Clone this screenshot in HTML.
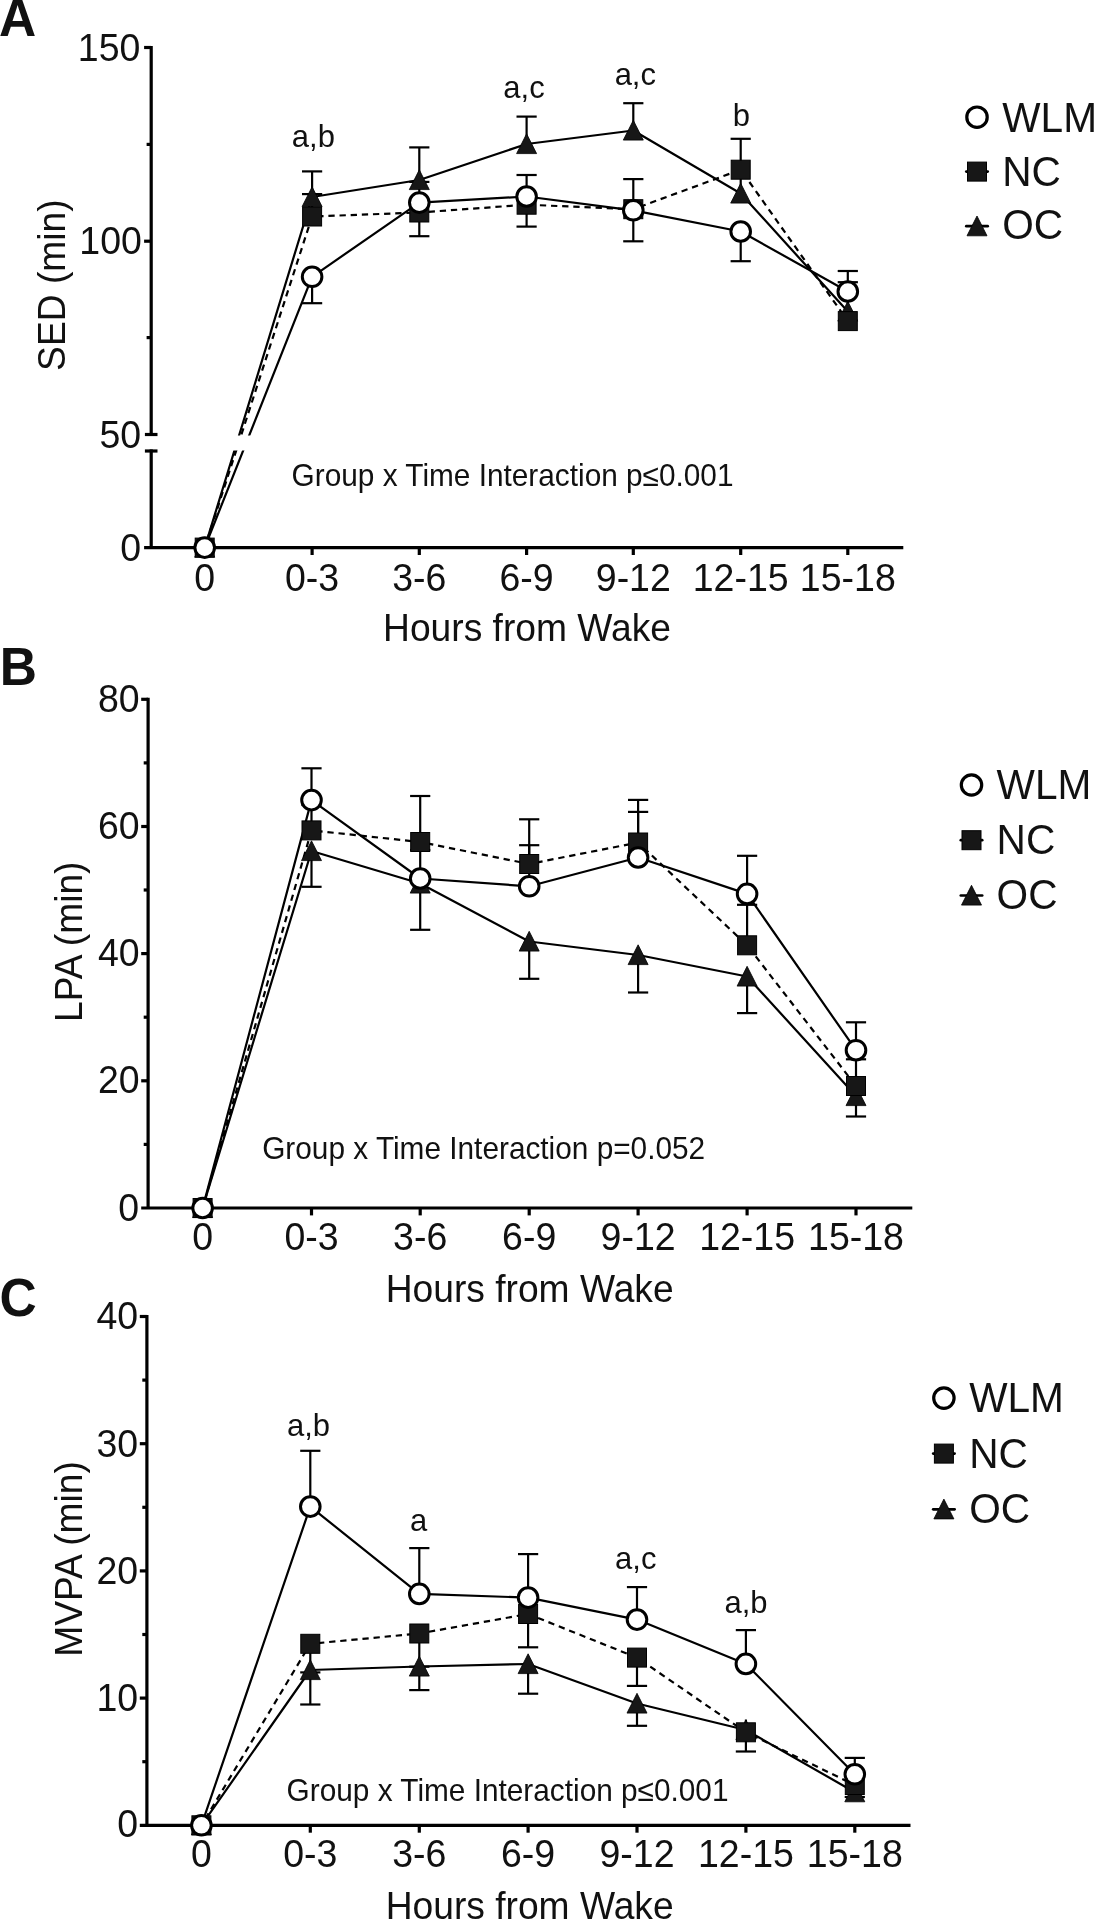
<!DOCTYPE html>
<html><head><meta charset="utf-8"><title>Figure</title>
<style>
html,body{margin:0;padding:0;background:#fff;overflow:hidden;width:1095px;height:1920px;}
svg{display:block;will-change:transform;}
text{font-family:"Liberation Sans", sans-serif;fill:#111;}
</style></head>
<body>
<svg width="1095" height="1920" viewBox="0 0 1095 1920">
<rect width="1095" height="1920" fill="#fff"/>
<line x1="151.20" y1="45.90" x2="151.20" y2="436.10" stroke="#000" stroke-width="3.2" stroke-linecap="butt"/>
<line x1="151.20" y1="449.40" x2="151.20" y2="547.60" stroke="#000" stroke-width="3.2" stroke-linecap="butt"/>
<line x1="144.10" y1="547.60" x2="903.30" y2="547.60" stroke="#000" stroke-width="3.2" stroke-linecap="butt"/>
<line x1="144.10" y1="47.50" x2="151.20" y2="47.50" stroke="#000" stroke-width="3.2" stroke-linecap="butt"/>
<line x1="144.10" y1="241.20" x2="151.20" y2="241.20" stroke="#000" stroke-width="3.2" stroke-linecap="butt"/>
<line x1="146.60" y1="144.40" x2="151.20" y2="144.40" stroke="#000" stroke-width="3.2" stroke-linecap="butt"/>
<line x1="146.60" y1="337.60" x2="151.20" y2="337.60" stroke="#000" stroke-width="3.2" stroke-linecap="butt"/>
<line x1="312.10" y1="547.60" x2="312.10" y2="555.00" stroke="#000" stroke-width="3.2" stroke-linecap="butt"/>
<line x1="419.30" y1="547.60" x2="419.30" y2="555.00" stroke="#000" stroke-width="3.2" stroke-linecap="butt"/>
<line x1="526.60" y1="547.60" x2="526.60" y2="555.00" stroke="#000" stroke-width="3.2" stroke-linecap="butt"/>
<line x1="633.30" y1="547.60" x2="633.30" y2="555.00" stroke="#000" stroke-width="3.2" stroke-linecap="butt"/>
<line x1="740.70" y1="547.60" x2="740.70" y2="555.00" stroke="#000" stroke-width="3.2" stroke-linecap="butt"/>
<line x1="847.80" y1="547.60" x2="847.80" y2="555.00" stroke="#000" stroke-width="3.2" stroke-linecap="butt"/>
<polyline points="204.70,547.60 312.10,197.00 419.30,180.00 526.60,144.00 633.30,130.50 740.70,193.50 847.80,311.50" fill="none" stroke="#000" stroke-width="2.2" stroke-linejoin="round" stroke-linecap="butt"/>
<polyline points="204.70,547.60 312.10,216.50 419.30,212.50 526.60,204.70 633.30,209.20 740.70,169.70 847.80,321.10" fill="none" stroke="#000" stroke-width="2.2" stroke-linejoin="round" stroke-linecap="butt" stroke-dasharray="6.3 4.85" stroke-dashoffset="3.57"/>
<polyline points="204.70,547.60 312.10,276.80 419.30,202.60 526.60,196.50 633.30,210.30 740.70,231.50 847.80,291.50" fill="none" stroke="#000" stroke-width="2.2" stroke-linejoin="round" stroke-linecap="butt"/>
<rect x="153.20" y="435.50" width="752.10" height="15.00" fill="#fff"/>
<line x1="144.90" y1="434.50" x2="157.50" y2="434.50" stroke="#000" stroke-width="3.2" stroke-linecap="butt"/>
<line x1="144.90" y1="451.00" x2="157.50" y2="451.00" stroke="#000" stroke-width="3.2" stroke-linecap="butt"/>
<line x1="312.10" y1="197.00" x2="312.10" y2="171.40" stroke="#000" stroke-width="2.2" stroke-linecap="butt"/>
<line x1="302.00" y1="171.40" x2="322.20" y2="171.40" stroke="#000" stroke-width="2.2" stroke-linecap="butt"/>
<line x1="312.10" y1="216.50" x2="312.10" y2="194.10" stroke="#000" stroke-width="2.2" stroke-linecap="butt"/>
<line x1="302.00" y1="194.10" x2="322.20" y2="194.10" stroke="#000" stroke-width="2.2" stroke-linecap="butt"/>
<line x1="312.10" y1="276.80" x2="312.10" y2="303.20" stroke="#000" stroke-width="2.2" stroke-linecap="butt"/>
<line x1="302.00" y1="303.20" x2="322.20" y2="303.20" stroke="#000" stroke-width="2.2" stroke-linecap="butt"/>
<line x1="419.30" y1="180.00" x2="419.30" y2="147.40" stroke="#000" stroke-width="2.2" stroke-linecap="butt"/>
<line x1="409.20" y1="147.40" x2="429.40" y2="147.40" stroke="#000" stroke-width="2.2" stroke-linecap="butt"/>
<line x1="419.30" y1="202.60" x2="419.30" y2="181.90" stroke="#000" stroke-width="2.2" stroke-linecap="butt"/>
<line x1="409.20" y1="181.90" x2="429.40" y2="181.90" stroke="#000" stroke-width="2.2" stroke-linecap="butt"/>
<line x1="419.30" y1="212.50" x2="419.30" y2="236.20" stroke="#000" stroke-width="2.2" stroke-linecap="butt"/>
<line x1="409.20" y1="236.20" x2="429.40" y2="236.20" stroke="#000" stroke-width="2.2" stroke-linecap="butt"/>
<line x1="526.60" y1="144.00" x2="526.60" y2="116.60" stroke="#000" stroke-width="2.2" stroke-linecap="butt"/>
<line x1="516.50" y1="116.60" x2="536.70" y2="116.60" stroke="#000" stroke-width="2.2" stroke-linecap="butt"/>
<line x1="526.60" y1="196.50" x2="526.60" y2="175.00" stroke="#000" stroke-width="2.2" stroke-linecap="butt"/>
<line x1="516.50" y1="175.00" x2="536.70" y2="175.00" stroke="#000" stroke-width="2.2" stroke-linecap="butt"/>
<line x1="526.60" y1="204.70" x2="526.60" y2="226.60" stroke="#000" stroke-width="2.2" stroke-linecap="butt"/>
<line x1="516.50" y1="226.60" x2="536.70" y2="226.60" stroke="#000" stroke-width="2.2" stroke-linecap="butt"/>
<line x1="633.30" y1="130.50" x2="633.30" y2="103.20" stroke="#000" stroke-width="2.2" stroke-linecap="butt"/>
<line x1="623.20" y1="103.20" x2="643.40" y2="103.20" stroke="#000" stroke-width="2.2" stroke-linecap="butt"/>
<line x1="633.30" y1="210.30" x2="633.30" y2="179.10" stroke="#000" stroke-width="2.2" stroke-linecap="butt"/>
<line x1="623.20" y1="179.10" x2="643.40" y2="179.10" stroke="#000" stroke-width="2.2" stroke-linecap="butt"/>
<line x1="633.30" y1="210.30" x2="633.30" y2="241.30" stroke="#000" stroke-width="2.2" stroke-linecap="butt"/>
<line x1="623.20" y1="241.30" x2="643.40" y2="241.30" stroke="#000" stroke-width="2.2" stroke-linecap="butt"/>
<line x1="740.70" y1="193.50" x2="740.70" y2="138.80" stroke="#000" stroke-width="2.2" stroke-linecap="butt"/>
<line x1="730.60" y1="138.80" x2="750.80" y2="138.80" stroke="#000" stroke-width="2.2" stroke-linecap="butt"/>
<line x1="740.70" y1="231.50" x2="740.70" y2="261.20" stroke="#000" stroke-width="2.2" stroke-linecap="butt"/>
<line x1="730.60" y1="261.20" x2="750.80" y2="261.20" stroke="#000" stroke-width="2.2" stroke-linecap="butt"/>
<line x1="847.80" y1="291.50" x2="847.80" y2="271.00" stroke="#000" stroke-width="2.2" stroke-linecap="butt"/>
<line x1="837.70" y1="271.00" x2="857.90" y2="271.00" stroke="#000" stroke-width="2.2" stroke-linecap="butt"/>
<line x1="847.80" y1="311.50" x2="847.80" y2="282.20" stroke="#000" stroke-width="2.2" stroke-linecap="butt"/>
<line x1="837.70" y1="282.20" x2="857.90" y2="282.20" stroke="#000" stroke-width="2.2" stroke-linecap="butt"/>
<path d="M204.70 537.40 L214.70 557.20 L194.70 557.20 Z" fill="#171717" stroke="#000" stroke-width="0.8" stroke-linejoin="miter"/>
<path d="M312.10 186.80 L322.10 206.60 L302.10 206.60 Z" fill="#171717" stroke="#000" stroke-width="0.8" stroke-linejoin="miter"/>
<path d="M419.30 169.80 L429.30 189.60 L409.30 189.60 Z" fill="#171717" stroke="#000" stroke-width="0.8" stroke-linejoin="miter"/>
<path d="M526.60 133.80 L536.60 153.60 L516.60 153.60 Z" fill="#171717" stroke="#000" stroke-width="0.8" stroke-linejoin="miter"/>
<path d="M633.30 120.30 L643.30 140.10 L623.30 140.10 Z" fill="#171717" stroke="#000" stroke-width="0.8" stroke-linejoin="miter"/>
<path d="M740.70 183.30 L750.70 203.10 L730.70 203.10 Z" fill="#171717" stroke="#000" stroke-width="0.8" stroke-linejoin="miter"/>
<path d="M847.80 301.30 L857.80 321.10 L837.80 321.10 Z" fill="#171717" stroke="#000" stroke-width="0.8" stroke-linejoin="miter"/>
<rect x="195.20" y="538.10" width="19" height="19" fill="#171717" stroke="#000" stroke-width="1"/>
<rect x="302.60" y="207.00" width="19" height="19" fill="#171717" stroke="#000" stroke-width="1"/>
<rect x="409.80" y="203.00" width="19" height="19" fill="#171717" stroke="#000" stroke-width="1"/>
<rect x="517.10" y="195.20" width="19" height="19" fill="#171717" stroke="#000" stroke-width="1"/>
<rect x="623.80" y="199.70" width="19" height="19" fill="#171717" stroke="#000" stroke-width="1"/>
<rect x="731.20" y="160.20" width="19" height="19" fill="#171717" stroke="#000" stroke-width="1"/>
<rect x="838.30" y="311.60" width="19" height="19" fill="#171717" stroke="#000" stroke-width="1"/>
<circle cx="204.70" cy="547.60" r="9.8" fill="#fff" stroke="#000" stroke-width="3.0"/>
<circle cx="312.10" cy="276.80" r="9.8" fill="#fff" stroke="#000" stroke-width="3.0"/>
<circle cx="419.30" cy="202.60" r="9.8" fill="#fff" stroke="#000" stroke-width="3.0"/>
<circle cx="526.60" cy="196.50" r="9.8" fill="#fff" stroke="#000" stroke-width="3.0"/>
<circle cx="633.30" cy="210.30" r="9.8" fill="#fff" stroke="#000" stroke-width="3.0"/>
<circle cx="740.70" cy="231.50" r="9.8" fill="#fff" stroke="#000" stroke-width="3.0"/>
<circle cx="847.80" cy="291.50" r="9.8" fill="#fff" stroke="#000" stroke-width="3.0"/>
<text transform="translate(140.40 60.80) scale(1 1.04)" font-size="37.5" font-weight="normal" text-anchor="end">150</text>
<text transform="translate(141.90 254.20) scale(1 1.04)" font-size="37.5" font-weight="normal" text-anchor="end">100</text>
<text transform="translate(141.20 447.60) scale(1 1.04)" font-size="37.5" font-weight="normal" text-anchor="end">50</text>
<text transform="translate(141.10 560.50) scale(1 1.04)" font-size="37.5" font-weight="normal" text-anchor="end">0</text>
<text transform="translate(204.70 591.30) scale(1 1.04)" font-size="37.5" font-weight="normal" text-anchor="middle">0</text>
<text transform="translate(312.10 591.30) scale(1 1.04)" font-size="37.5" font-weight="normal" text-anchor="middle">0-3</text>
<text transform="translate(419.30 591.30) scale(1 1.04)" font-size="37.5" font-weight="normal" text-anchor="middle">3-6</text>
<text transform="translate(526.60 591.30) scale(1 1.04)" font-size="37.5" font-weight="normal" text-anchor="middle">6-9</text>
<text transform="translate(633.30 591.30) scale(1 1.04)" font-size="37.5" font-weight="normal" text-anchor="middle">9-12</text>
<text transform="translate(740.70 591.30) scale(1 1.04)" font-size="37.5" font-weight="normal" text-anchor="middle">12-15</text>
<text transform="translate(847.80 591.30) scale(1 1.04)" font-size="37.5" font-weight="normal" text-anchor="middle">15-18</text>
<text transform="translate(527.00 640.80) scale(1 1.04)" font-size="37.2" font-weight="normal" text-anchor="middle">Hours from Wake</text>
<text transform="translate(65.20 285.15) rotate(-90) scale(1 1.04)" font-size="37.2" font-weight="normal" text-anchor="middle">SED (min)</text>
<text transform="translate(291.60 485.70) scale(1 1.04)" font-size="29.8" font-weight="normal" text-anchor="start">Group x Time Interaction p≤0.001</text>
<text transform="translate(313.40 146.70) scale(1 1.04)" font-size="31" font-weight="normal" text-anchor="middle">a,b</text>
<text transform="translate(524.00 97.90) scale(1 1.04)" font-size="31" font-weight="normal" text-anchor="middle">a,c</text>
<text transform="translate(635.30 85.30) scale(1 1.04)" font-size="31" font-weight="normal" text-anchor="middle">a,c</text>
<text transform="translate(741.35 125.70) scale(1 1.04)" font-size="31" font-weight="normal" text-anchor="middle">b</text>
<text transform="translate(-1.00 36.30) scale(1 1.04)" font-size="51.5" font-weight="bold" text-anchor="start">A</text>
<circle cx="977.00" cy="117.20" r="10.2" fill="#fff" stroke="#000" stroke-width="3.2"/>
<text transform="translate(1002.30 131.50) scale(1 1.04)" font-size="40.6" font-weight="normal" text-anchor="start">WLM</text>
<line x1="966.30" y1="171.60" x2="987.70" y2="171.60" stroke="#000" stroke-width="2.7" stroke-linecap="round"/>
<rect x="967.50" y="162.10" width="19" height="19" fill="#171717" stroke="#000" stroke-width="1"/>
<text transform="translate(1002.30 185.60) scale(1 1.04)" font-size="40.6" font-weight="normal" text-anchor="start">NC</text>
<line x1="966.30" y1="226.20" x2="987.70" y2="226.20" stroke="#000" stroke-width="2.7" stroke-linecap="round"/>
<path d="M977.00 216.00 L987.00 235.80 L967.00 235.80 Z" fill="#171717" stroke="#000" stroke-width="0.8" stroke-linejoin="miter"/>
<text transform="translate(1002.30 239.30) scale(1 1.04)" font-size="40.6" font-weight="normal" text-anchor="start">OC</text>
<line x1="148.10" y1="697.70" x2="148.10" y2="1208.00" stroke="#000" stroke-width="3.2" stroke-linecap="butt"/>
<line x1="141.20" y1="1208.00" x2="912.30" y2="1208.00" stroke="#000" stroke-width="3.2" stroke-linecap="butt"/>
<line x1="141.20" y1="699.30" x2="148.10" y2="699.30" stroke="#000" stroke-width="3.2" stroke-linecap="butt"/>
<line x1="141.20" y1="826.50" x2="148.10" y2="826.50" stroke="#000" stroke-width="3.2" stroke-linecap="butt"/>
<line x1="141.20" y1="953.60" x2="148.10" y2="953.60" stroke="#000" stroke-width="3.2" stroke-linecap="butt"/>
<line x1="141.20" y1="1080.80" x2="148.10" y2="1080.80" stroke="#000" stroke-width="3.2" stroke-linecap="butt"/>
<line x1="143.70" y1="762.90" x2="148.10" y2="762.90" stroke="#000" stroke-width="3.2" stroke-linecap="butt"/>
<line x1="143.70" y1="890.00" x2="148.10" y2="890.00" stroke="#000" stroke-width="3.2" stroke-linecap="butt"/>
<line x1="143.70" y1="1017.20" x2="148.10" y2="1017.20" stroke="#000" stroke-width="3.2" stroke-linecap="butt"/>
<line x1="143.70" y1="1144.40" x2="148.10" y2="1144.40" stroke="#000" stroke-width="3.2" stroke-linecap="butt"/>
<line x1="311.50" y1="1208.00" x2="311.50" y2="1215.40" stroke="#000" stroke-width="3.2" stroke-linecap="butt"/>
<line x1="420.20" y1="1208.00" x2="420.20" y2="1215.40" stroke="#000" stroke-width="3.2" stroke-linecap="butt"/>
<line x1="529.20" y1="1208.00" x2="529.20" y2="1215.40" stroke="#000" stroke-width="3.2" stroke-linecap="butt"/>
<line x1="638.10" y1="1208.00" x2="638.10" y2="1215.40" stroke="#000" stroke-width="3.2" stroke-linecap="butt"/>
<line x1="747.10" y1="1208.00" x2="747.10" y2="1215.40" stroke="#000" stroke-width="3.2" stroke-linecap="butt"/>
<line x1="856.00" y1="1208.00" x2="856.00" y2="1215.40" stroke="#000" stroke-width="3.2" stroke-linecap="butt"/>
<polyline points="202.60,1208.00 311.50,851.00 420.20,883.50 529.20,941.50 638.10,955.00 747.10,976.50 856.00,1096.00" fill="none" stroke="#000" stroke-width="2.2" stroke-linejoin="round" stroke-linecap="butt"/>
<polyline points="202.60,1208.00 311.50,830.40 420.20,842.00 529.20,864.00 638.10,842.50 747.10,945.30 856.00,1086.00" fill="none" stroke="#000" stroke-width="2.2" stroke-linejoin="round" stroke-linecap="butt" stroke-dasharray="6.3 4.85" stroke-dashoffset="3.57"/>
<polyline points="202.60,1208.00 311.50,800.10 420.20,878.50 529.20,886.30 638.10,857.50 747.10,893.90 856.00,1050.20" fill="none" stroke="#000" stroke-width="2.2" stroke-linejoin="round" stroke-linecap="butt"/>
<line x1="311.50" y1="800.10" x2="311.50" y2="768.30" stroke="#000" stroke-width="2.2" stroke-linecap="butt"/>
<line x1="301.40" y1="768.30" x2="321.60" y2="768.30" stroke="#000" stroke-width="2.2" stroke-linecap="butt"/>
<line x1="311.50" y1="830.40" x2="311.50" y2="805.00" stroke="#000" stroke-width="2.2" stroke-linecap="butt"/>
<line x1="301.40" y1="805.00" x2="321.60" y2="805.00" stroke="#000" stroke-width="2.2" stroke-linecap="butt"/>
<line x1="311.50" y1="851.00" x2="311.50" y2="886.80" stroke="#000" stroke-width="2.2" stroke-linecap="butt"/>
<line x1="301.40" y1="886.80" x2="321.60" y2="886.80" stroke="#000" stroke-width="2.2" stroke-linecap="butt"/>
<line x1="420.20" y1="842.00" x2="420.20" y2="796.00" stroke="#000" stroke-width="2.2" stroke-linecap="butt"/>
<line x1="410.10" y1="796.00" x2="430.30" y2="796.00" stroke="#000" stroke-width="2.2" stroke-linecap="butt"/>
<line x1="420.20" y1="878.50" x2="420.20" y2="850.00" stroke="#000" stroke-width="2.2" stroke-linecap="butt"/>
<line x1="410.10" y1="850.00" x2="430.30" y2="850.00" stroke="#000" stroke-width="2.2" stroke-linecap="butt"/>
<line x1="420.20" y1="883.50" x2="420.20" y2="929.80" stroke="#000" stroke-width="2.2" stroke-linecap="butt"/>
<line x1="410.10" y1="929.80" x2="430.30" y2="929.80" stroke="#000" stroke-width="2.2" stroke-linecap="butt"/>
<line x1="529.20" y1="864.00" x2="529.20" y2="819.30" stroke="#000" stroke-width="2.2" stroke-linecap="butt"/>
<line x1="519.10" y1="819.30" x2="539.30" y2="819.30" stroke="#000" stroke-width="2.2" stroke-linecap="butt"/>
<line x1="529.20" y1="886.30" x2="529.20" y2="845.20" stroke="#000" stroke-width="2.2" stroke-linecap="butt"/>
<line x1="519.10" y1="845.20" x2="539.30" y2="845.20" stroke="#000" stroke-width="2.2" stroke-linecap="butt"/>
<line x1="529.20" y1="941.50" x2="529.20" y2="978.80" stroke="#000" stroke-width="2.2" stroke-linecap="butt"/>
<line x1="519.10" y1="978.80" x2="539.30" y2="978.80" stroke="#000" stroke-width="2.2" stroke-linecap="butt"/>
<line x1="638.10" y1="842.50" x2="638.10" y2="799.90" stroke="#000" stroke-width="2.2" stroke-linecap="butt"/>
<line x1="628.00" y1="799.90" x2="648.20" y2="799.90" stroke="#000" stroke-width="2.2" stroke-linecap="butt"/>
<line x1="638.10" y1="857.50" x2="638.10" y2="811.90" stroke="#000" stroke-width="2.2" stroke-linecap="butt"/>
<line x1="628.00" y1="811.90" x2="648.20" y2="811.90" stroke="#000" stroke-width="2.2" stroke-linecap="butt"/>
<line x1="638.10" y1="955.00" x2="638.10" y2="992.50" stroke="#000" stroke-width="2.2" stroke-linecap="butt"/>
<line x1="628.00" y1="992.50" x2="648.20" y2="992.50" stroke="#000" stroke-width="2.2" stroke-linecap="butt"/>
<line x1="747.10" y1="893.90" x2="747.10" y2="855.80" stroke="#000" stroke-width="2.2" stroke-linecap="butt"/>
<line x1="737.00" y1="855.80" x2="757.20" y2="855.80" stroke="#000" stroke-width="2.2" stroke-linecap="butt"/>
<line x1="747.10" y1="945.30" x2="747.10" y2="904.80" stroke="#000" stroke-width="2.2" stroke-linecap="butt"/>
<line x1="737.00" y1="904.80" x2="757.20" y2="904.80" stroke="#000" stroke-width="2.2" stroke-linecap="butt"/>
<line x1="747.10" y1="976.50" x2="747.10" y2="1013.10" stroke="#000" stroke-width="2.2" stroke-linecap="butt"/>
<line x1="737.00" y1="1013.10" x2="757.20" y2="1013.10" stroke="#000" stroke-width="2.2" stroke-linecap="butt"/>
<line x1="856.00" y1="1050.20" x2="856.00" y2="1022.30" stroke="#000" stroke-width="2.2" stroke-linecap="butt"/>
<line x1="845.90" y1="1022.30" x2="866.10" y2="1022.30" stroke="#000" stroke-width="2.2" stroke-linecap="butt"/>
<line x1="856.00" y1="1086.00" x2="856.00" y2="1059.30" stroke="#000" stroke-width="2.2" stroke-linecap="butt"/>
<line x1="845.90" y1="1059.30" x2="866.10" y2="1059.30" stroke="#000" stroke-width="2.2" stroke-linecap="butt"/>
<line x1="856.00" y1="1096.00" x2="856.00" y2="1116.50" stroke="#000" stroke-width="2.2" stroke-linecap="butt"/>
<line x1="845.90" y1="1116.50" x2="866.10" y2="1116.50" stroke="#000" stroke-width="2.2" stroke-linecap="butt"/>
<path d="M202.60 1197.80 L212.60 1217.60 L192.60 1217.60 Z" fill="#171717" stroke="#000" stroke-width="0.8" stroke-linejoin="miter"/>
<path d="M311.50 840.80 L321.50 860.60 L301.50 860.60 Z" fill="#171717" stroke="#000" stroke-width="0.8" stroke-linejoin="miter"/>
<path d="M420.20 873.30 L430.20 893.10 L410.20 893.10 Z" fill="#171717" stroke="#000" stroke-width="0.8" stroke-linejoin="miter"/>
<path d="M529.20 931.30 L539.20 951.10 L519.20 951.10 Z" fill="#171717" stroke="#000" stroke-width="0.8" stroke-linejoin="miter"/>
<path d="M638.10 944.80 L648.10 964.60 L628.10 964.60 Z" fill="#171717" stroke="#000" stroke-width="0.8" stroke-linejoin="miter"/>
<path d="M747.10 966.30 L757.10 986.10 L737.10 986.10 Z" fill="#171717" stroke="#000" stroke-width="0.8" stroke-linejoin="miter"/>
<path d="M856.00 1085.80 L866.00 1105.60 L846.00 1105.60 Z" fill="#171717" stroke="#000" stroke-width="0.8" stroke-linejoin="miter"/>
<rect x="193.10" y="1198.50" width="19" height="19" fill="#171717" stroke="#000" stroke-width="1"/>
<rect x="302.00" y="820.90" width="19" height="19" fill="#171717" stroke="#000" stroke-width="1"/>
<rect x="410.70" y="832.50" width="19" height="19" fill="#171717" stroke="#000" stroke-width="1"/>
<rect x="519.70" y="854.50" width="19" height="19" fill="#171717" stroke="#000" stroke-width="1"/>
<rect x="628.60" y="833.00" width="19" height="19" fill="#171717" stroke="#000" stroke-width="1"/>
<rect x="737.60" y="935.80" width="19" height="19" fill="#171717" stroke="#000" stroke-width="1"/>
<rect x="846.50" y="1076.50" width="19" height="19" fill="#171717" stroke="#000" stroke-width="1"/>
<circle cx="202.60" cy="1208.00" r="9.8" fill="#fff" stroke="#000" stroke-width="3.0"/>
<circle cx="311.50" cy="800.10" r="9.8" fill="#fff" stroke="#000" stroke-width="3.0"/>
<circle cx="420.20" cy="878.50" r="9.8" fill="#fff" stroke="#000" stroke-width="3.0"/>
<circle cx="529.20" cy="886.30" r="9.8" fill="#fff" stroke="#000" stroke-width="3.0"/>
<circle cx="638.10" cy="857.50" r="9.8" fill="#fff" stroke="#000" stroke-width="3.0"/>
<circle cx="747.10" cy="893.90" r="9.8" fill="#fff" stroke="#000" stroke-width="3.0"/>
<circle cx="856.00" cy="1050.20" r="9.8" fill="#fff" stroke="#000" stroke-width="3.0"/>
<text transform="translate(139.70 711.60) scale(1 1.04)" font-size="37.5" font-weight="normal" text-anchor="end">80</text>
<text transform="translate(139.70 838.90) scale(1 1.04)" font-size="37.5" font-weight="normal" text-anchor="end">60</text>
<text transform="translate(139.70 966.20) scale(1 1.04)" font-size="37.5" font-weight="normal" text-anchor="end">40</text>
<text transform="translate(139.70 1093.40) scale(1 1.04)" font-size="37.5" font-weight="normal" text-anchor="end">20</text>
<text transform="translate(139.00 1220.60) scale(1 1.04)" font-size="37.5" font-weight="normal" text-anchor="end">0</text>
<text transform="translate(202.60 1250.40) scale(1 1.04)" font-size="37.5" font-weight="normal" text-anchor="middle">0</text>
<text transform="translate(311.50 1250.40) scale(1 1.04)" font-size="37.5" font-weight="normal" text-anchor="middle">0-3</text>
<text transform="translate(420.20 1250.40) scale(1 1.04)" font-size="37.5" font-weight="normal" text-anchor="middle">3-6</text>
<text transform="translate(529.20 1250.40) scale(1 1.04)" font-size="37.5" font-weight="normal" text-anchor="middle">6-9</text>
<text transform="translate(638.10 1250.40) scale(1 1.04)" font-size="37.5" font-weight="normal" text-anchor="middle">9-12</text>
<text transform="translate(747.10 1250.40) scale(1 1.04)" font-size="37.5" font-weight="normal" text-anchor="middle">12-15</text>
<text transform="translate(856.00 1250.40) scale(1 1.04)" font-size="37.5" font-weight="normal" text-anchor="middle">15-18</text>
<text transform="translate(529.65 1301.80) scale(1 1.04)" font-size="37.2" font-weight="normal" text-anchor="middle">Hours from Wake</text>
<text transform="translate(82.40 941.80) rotate(-90) scale(1 1.04)" font-size="37.2" font-weight="normal" text-anchor="middle">LPA (min)</text>
<text transform="translate(262.20 1158.50) scale(1 1.04)" font-size="29.8" font-weight="normal" text-anchor="start">Group x Time Interaction p=0.052</text>
<text transform="translate(-0.20 685.20) scale(1 1.04)" font-size="51.5" font-weight="bold" text-anchor="start">B</text>
<circle cx="971.50" cy="785.00" r="10.2" fill="#fff" stroke="#000" stroke-width="3.2"/>
<text transform="translate(996.60 799.00) scale(1 1.04)" font-size="40.6" font-weight="normal" text-anchor="start">WLM</text>
<line x1="960.80" y1="840.20" x2="982.20" y2="840.20" stroke="#000" stroke-width="2.7" stroke-linecap="round"/>
<rect x="962.00" y="830.70" width="19" height="19" fill="#171717" stroke="#000" stroke-width="1"/>
<text transform="translate(996.60 853.60) scale(1 1.04)" font-size="40.6" font-weight="normal" text-anchor="start">NC</text>
<line x1="960.80" y1="895.50" x2="982.20" y2="895.50" stroke="#000" stroke-width="2.7" stroke-linecap="round"/>
<path d="M971.50 885.30 L981.50 905.10 L961.50 905.10 Z" fill="#171717" stroke="#000" stroke-width="0.8" stroke-linejoin="miter"/>
<text transform="translate(996.60 909.20) scale(1 1.04)" font-size="40.6" font-weight="normal" text-anchor="start">OC</text>
<line x1="146.90" y1="1314.90" x2="146.90" y2="1825.30" stroke="#000" stroke-width="3.2" stroke-linecap="butt"/>
<line x1="139.80" y1="1825.30" x2="910.50" y2="1825.30" stroke="#000" stroke-width="3.2" stroke-linecap="butt"/>
<line x1="139.80" y1="1316.50" x2="146.90" y2="1316.50" stroke="#000" stroke-width="3.2" stroke-linecap="butt"/>
<line x1="139.80" y1="1443.70" x2="146.90" y2="1443.70" stroke="#000" stroke-width="3.2" stroke-linecap="butt"/>
<line x1="139.80" y1="1570.90" x2="146.90" y2="1570.90" stroke="#000" stroke-width="3.2" stroke-linecap="butt"/>
<line x1="139.80" y1="1698.10" x2="146.90" y2="1698.10" stroke="#000" stroke-width="3.2" stroke-linecap="butt"/>
<line x1="142.30" y1="1380.10" x2="146.90" y2="1380.10" stroke="#000" stroke-width="3.2" stroke-linecap="butt"/>
<line x1="142.30" y1="1507.30" x2="146.90" y2="1507.30" stroke="#000" stroke-width="3.2" stroke-linecap="butt"/>
<line x1="142.30" y1="1634.50" x2="146.90" y2="1634.50" stroke="#000" stroke-width="3.2" stroke-linecap="butt"/>
<line x1="142.30" y1="1761.70" x2="146.90" y2="1761.70" stroke="#000" stroke-width="3.2" stroke-linecap="butt"/>
<line x1="310.30" y1="1825.30" x2="310.30" y2="1832.70" stroke="#000" stroke-width="3.2" stroke-linecap="butt"/>
<line x1="419.30" y1="1825.30" x2="419.30" y2="1832.70" stroke="#000" stroke-width="3.2" stroke-linecap="butt"/>
<line x1="528.10" y1="1825.30" x2="528.10" y2="1832.70" stroke="#000" stroke-width="3.2" stroke-linecap="butt"/>
<line x1="637.00" y1="1825.30" x2="637.00" y2="1832.70" stroke="#000" stroke-width="3.2" stroke-linecap="butt"/>
<line x1="745.90" y1="1825.30" x2="745.90" y2="1832.70" stroke="#000" stroke-width="3.2" stroke-linecap="butt"/>
<line x1="854.80" y1="1825.30" x2="854.80" y2="1832.70" stroke="#000" stroke-width="3.2" stroke-linecap="butt"/>
<polyline points="201.40,1825.30 310.30,1670.00 419.30,1666.50 528.10,1664.00 637.00,1703.50 745.90,1730.00 854.80,1792.20" fill="none" stroke="#000" stroke-width="2.2" stroke-linejoin="round" stroke-linecap="butt"/>
<polyline points="201.40,1825.30 310.30,1643.80 419.30,1633.50 528.10,1614.00 637.00,1657.60 745.90,1732.30 854.80,1785.00" fill="none" stroke="#000" stroke-width="2.2" stroke-linejoin="round" stroke-linecap="butt" stroke-dasharray="6.3 4.85" stroke-dashoffset="3.57"/>
<polyline points="201.40,1825.30 310.30,1506.60 419.30,1593.90 528.10,1597.60 637.00,1619.60 745.90,1663.90 854.80,1774.30" fill="none" stroke="#000" stroke-width="2.2" stroke-linejoin="round" stroke-linecap="butt"/>
<line x1="310.30" y1="1506.60" x2="310.30" y2="1450.80" stroke="#000" stroke-width="2.2" stroke-linecap="butt"/>
<line x1="300.20" y1="1450.80" x2="320.40" y2="1450.80" stroke="#000" stroke-width="2.2" stroke-linecap="butt"/>
<line x1="310.30" y1="1643.80" x2="310.30" y2="1672.40" stroke="#000" stroke-width="2.2" stroke-linecap="butt"/>
<line x1="300.20" y1="1672.40" x2="320.40" y2="1672.40" stroke="#000" stroke-width="2.2" stroke-linecap="butt"/>
<line x1="310.30" y1="1670.00" x2="310.30" y2="1704.50" stroke="#000" stroke-width="2.2" stroke-linecap="butt"/>
<line x1="300.20" y1="1704.50" x2="320.40" y2="1704.50" stroke="#000" stroke-width="2.2" stroke-linecap="butt"/>
<line x1="419.30" y1="1593.90" x2="419.30" y2="1548.10" stroke="#000" stroke-width="2.2" stroke-linecap="butt"/>
<line x1="409.20" y1="1548.10" x2="429.40" y2="1548.10" stroke="#000" stroke-width="2.2" stroke-linecap="butt"/>
<line x1="419.30" y1="1633.50" x2="419.30" y2="1666.70" stroke="#000" stroke-width="2.2" stroke-linecap="butt"/>
<line x1="409.20" y1="1666.70" x2="429.40" y2="1666.70" stroke="#000" stroke-width="2.2" stroke-linecap="butt"/>
<line x1="419.30" y1="1666.50" x2="419.30" y2="1690.10" stroke="#000" stroke-width="2.2" stroke-linecap="butt"/>
<line x1="409.20" y1="1690.10" x2="429.40" y2="1690.10" stroke="#000" stroke-width="2.2" stroke-linecap="butt"/>
<line x1="528.10" y1="1597.60" x2="528.10" y2="1554.10" stroke="#000" stroke-width="2.2" stroke-linecap="butt"/>
<line x1="518.00" y1="1554.10" x2="538.20" y2="1554.10" stroke="#000" stroke-width="2.2" stroke-linecap="butt"/>
<line x1="528.10" y1="1614.00" x2="528.10" y2="1647.30" stroke="#000" stroke-width="2.2" stroke-linecap="butt"/>
<line x1="518.00" y1="1647.30" x2="538.20" y2="1647.30" stroke="#000" stroke-width="2.2" stroke-linecap="butt"/>
<line x1="528.10" y1="1664.00" x2="528.10" y2="1693.70" stroke="#000" stroke-width="2.2" stroke-linecap="butt"/>
<line x1="518.00" y1="1693.70" x2="538.20" y2="1693.70" stroke="#000" stroke-width="2.2" stroke-linecap="butt"/>
<line x1="637.00" y1="1619.60" x2="637.00" y2="1587.10" stroke="#000" stroke-width="2.2" stroke-linecap="butt"/>
<line x1="626.90" y1="1587.10" x2="647.10" y2="1587.10" stroke="#000" stroke-width="2.2" stroke-linecap="butt"/>
<line x1="637.00" y1="1657.60" x2="637.00" y2="1685.90" stroke="#000" stroke-width="2.2" stroke-linecap="butt"/>
<line x1="626.90" y1="1685.90" x2="647.10" y2="1685.90" stroke="#000" stroke-width="2.2" stroke-linecap="butt"/>
<line x1="637.00" y1="1703.50" x2="637.00" y2="1725.80" stroke="#000" stroke-width="2.2" stroke-linecap="butt"/>
<line x1="626.90" y1="1725.80" x2="647.10" y2="1725.80" stroke="#000" stroke-width="2.2" stroke-linecap="butt"/>
<line x1="745.90" y1="1663.90" x2="745.90" y2="1630.10" stroke="#000" stroke-width="2.2" stroke-linecap="butt"/>
<line x1="735.80" y1="1630.10" x2="756.00" y2="1630.10" stroke="#000" stroke-width="2.2" stroke-linecap="butt"/>
<line x1="745.90" y1="1732.30" x2="745.90" y2="1751.50" stroke="#000" stroke-width="2.2" stroke-linecap="butt"/>
<line x1="735.80" y1="1751.50" x2="756.00" y2="1751.50" stroke="#000" stroke-width="2.2" stroke-linecap="butt"/>
<line x1="854.80" y1="1774.30" x2="854.80" y2="1757.90" stroke="#000" stroke-width="2.2" stroke-linecap="butt"/>
<line x1="844.70" y1="1757.90" x2="864.90" y2="1757.90" stroke="#000" stroke-width="2.2" stroke-linecap="butt"/>
<line x1="854.80" y1="1785.00" x2="854.80" y2="1797.00" stroke="#000" stroke-width="2.2" stroke-linecap="butt"/>
<line x1="844.70" y1="1797.00" x2="864.90" y2="1797.00" stroke="#000" stroke-width="2.2" stroke-linecap="butt"/>
<line x1="745.90" y1="1732.30" x2="745.90" y2="1719.60" stroke="#000" stroke-width="2.2" stroke-linecap="butt"/>
<path d="M201.40 1815.10 L211.40 1834.90 L191.40 1834.90 Z" fill="#171717" stroke="#000" stroke-width="0.8" stroke-linejoin="miter"/>
<path d="M310.30 1659.80 L320.30 1679.60 L300.30 1679.60 Z" fill="#171717" stroke="#000" stroke-width="0.8" stroke-linejoin="miter"/>
<path d="M419.30 1656.30 L429.30 1676.10 L409.30 1676.10 Z" fill="#171717" stroke="#000" stroke-width="0.8" stroke-linejoin="miter"/>
<path d="M528.10 1653.80 L538.10 1673.60 L518.10 1673.60 Z" fill="#171717" stroke="#000" stroke-width="0.8" stroke-linejoin="miter"/>
<path d="M637.00 1693.30 L647.00 1713.10 L627.00 1713.10 Z" fill="#171717" stroke="#000" stroke-width="0.8" stroke-linejoin="miter"/>
<path d="M745.90 1719.80 L755.90 1739.60 L735.90 1739.60 Z" fill="#171717" stroke="#000" stroke-width="0.8" stroke-linejoin="miter"/>
<path d="M854.80 1782.00 L864.80 1801.80 L844.80 1801.80 Z" fill="#171717" stroke="#000" stroke-width="0.8" stroke-linejoin="miter"/>
<rect x="191.90" y="1815.80" width="19" height="19" fill="#171717" stroke="#000" stroke-width="1"/>
<rect x="300.80" y="1634.30" width="19" height="19" fill="#171717" stroke="#000" stroke-width="1"/>
<rect x="409.80" y="1624.00" width="19" height="19" fill="#171717" stroke="#000" stroke-width="1"/>
<rect x="518.60" y="1604.50" width="19" height="19" fill="#171717" stroke="#000" stroke-width="1"/>
<rect x="627.50" y="1648.10" width="19" height="19" fill="#171717" stroke="#000" stroke-width="1"/>
<rect x="736.40" y="1722.80" width="19" height="19" fill="#171717" stroke="#000" stroke-width="1"/>
<rect x="845.30" y="1775.50" width="19" height="19" fill="#171717" stroke="#000" stroke-width="1"/>
<circle cx="201.40" cy="1825.30" r="9.8" fill="#fff" stroke="#000" stroke-width="3.0"/>
<circle cx="310.30" cy="1506.60" r="9.8" fill="#fff" stroke="#000" stroke-width="3.0"/>
<circle cx="419.30" cy="1593.90" r="9.8" fill="#fff" stroke="#000" stroke-width="3.0"/>
<circle cx="528.10" cy="1597.60" r="9.8" fill="#fff" stroke="#000" stroke-width="3.0"/>
<circle cx="637.00" cy="1619.60" r="9.8" fill="#fff" stroke="#000" stroke-width="3.0"/>
<circle cx="745.90" cy="1663.90" r="9.8" fill="#fff" stroke="#000" stroke-width="3.0"/>
<circle cx="854.80" cy="1774.30" r="9.8" fill="#fff" stroke="#000" stroke-width="3.0"/>
<text transform="translate(138.20 1329.30) scale(1 1.04)" font-size="37.5" font-weight="normal" text-anchor="end">40</text>
<text transform="translate(138.20 1456.50) scale(1 1.04)" font-size="37.5" font-weight="normal" text-anchor="end">30</text>
<text transform="translate(138.20 1583.70) scale(1 1.04)" font-size="37.5" font-weight="normal" text-anchor="end">20</text>
<text transform="translate(138.20 1710.90) scale(1 1.04)" font-size="37.5" font-weight="normal" text-anchor="end">10</text>
<text transform="translate(138.00 1837.20) scale(1 1.04)" font-size="37.5" font-weight="normal" text-anchor="end">0</text>
<text transform="translate(201.40 1867.00) scale(1 1.04)" font-size="37.5" font-weight="normal" text-anchor="middle">0</text>
<text transform="translate(310.30 1867.00) scale(1 1.04)" font-size="37.5" font-weight="normal" text-anchor="middle">0-3</text>
<text transform="translate(419.30 1867.00) scale(1 1.04)" font-size="37.5" font-weight="normal" text-anchor="middle">3-6</text>
<text transform="translate(528.10 1867.00) scale(1 1.04)" font-size="37.5" font-weight="normal" text-anchor="middle">6-9</text>
<text transform="translate(637.00 1867.00) scale(1 1.04)" font-size="37.5" font-weight="normal" text-anchor="middle">9-12</text>
<text transform="translate(745.90 1867.00) scale(1 1.04)" font-size="37.5" font-weight="normal" text-anchor="middle">12-15</text>
<text transform="translate(854.80 1867.00) scale(1 1.04)" font-size="37.5" font-weight="normal" text-anchor="middle">15-18</text>
<text transform="translate(529.65 1919.20) scale(1 1.04)" font-size="37.2" font-weight="normal" text-anchor="middle">Hours from Wake</text>
<text transform="translate(82.00 1558.95) rotate(-90) scale(1 1.04)" font-size="37.2" font-weight="normal" text-anchor="middle">MVPA (min)</text>
<text transform="translate(286.60 1801.20) scale(1 1.04)" font-size="29.8" font-weight="normal" text-anchor="start">Group x Time Interaction p≤0.001</text>
<text transform="translate(308.50 1435.70) scale(1 1.04)" font-size="31" font-weight="normal" text-anchor="middle">a,b</text>
<text transform="translate(418.55 1531.20) scale(1 1.04)" font-size="31" font-weight="normal" text-anchor="middle">a</text>
<text transform="translate(635.70 1569.40) scale(1 1.04)" font-size="31" font-weight="normal" text-anchor="middle">a,c</text>
<text transform="translate(745.95 1613.30) scale(1 1.04)" font-size="31" font-weight="normal" text-anchor="middle">a,b</text>
<text transform="translate(-0.50 1316.30) scale(1 1.04)" font-size="51.5" font-weight="bold" text-anchor="start">C</text>
<circle cx="943.90" cy="1398.10" r="10.2" fill="#fff" stroke="#000" stroke-width="3.2"/>
<text transform="translate(969.20 1412.30) scale(1 1.04)" font-size="40.6" font-weight="normal" text-anchor="start">WLM</text>
<line x1="933.20" y1="1453.60" x2="954.60" y2="1453.60" stroke="#000" stroke-width="2.7" stroke-linecap="round"/>
<rect x="934.40" y="1444.10" width="19" height="19" fill="#171717" stroke="#000" stroke-width="1"/>
<text transform="translate(969.20 1467.80) scale(1 1.04)" font-size="40.6" font-weight="normal" text-anchor="start">NC</text>
<line x1="933.20" y1="1509.30" x2="954.60" y2="1509.30" stroke="#000" stroke-width="2.7" stroke-linecap="round"/>
<path d="M943.90 1499.10 L953.90 1518.90 L933.90 1518.90 Z" fill="#171717" stroke="#000" stroke-width="0.8" stroke-linejoin="miter"/>
<text transform="translate(969.20 1523.10) scale(1 1.04)" font-size="40.6" font-weight="normal" text-anchor="start">OC</text>
</svg>
</body></html>
